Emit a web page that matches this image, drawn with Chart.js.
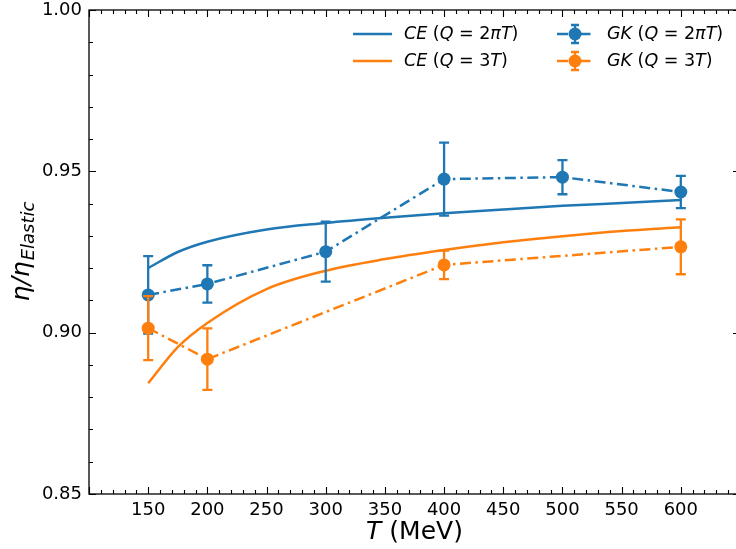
<!DOCTYPE html>
<html>
<head>
<meta charset="utf-8">
<script src="https://cdn.jsdelivr.net/npm/chart.js@4.4.0/dist/chart.umd.min.js"></script>
<style>
  html, body { margin: 0; padding: 0; background: #fff; overflow: hidden; }
  #wrap { width: 746px; height: 549px; }
</style>
</head>
<body>
<div id="wrap"><canvas id="chart"></canvas></div>
<script>
// Green-Kubo points, Q = 2 pi T
const gkTemps = [150, 200, 300, 400, 500, 600]
const gk2piT = [0.9117, 0.9151, 0.9251, 0.9476, 0.9482, 0.9436]
const gk2piTErr = [0.0120, 0.0058, 0.0093, 0.0113, 0.0053, 0.0050]

// Green-Kubo points, Q = 3T
const gk3TTemps = [150, 200, 400, 600]
const gk3T = [0.9014, 0.8918, 0.9210, 0.9266]
const gk3TErr = [0.0099, 0.0095, 0.0044, 0.0085]

// Chapman-Enskog curves
const ceTemps = [150, 175, 200, 250, 300, 350, 400, 450, 500, 550, 600]
const ce2piT = [0.9200, 0.9250, 0.9282, 0.9320, 0.9340, 0.9356, 0.9370, 0.9382, 0.9393, 0.9402, 0.9411]
const ce3T = [0.8843, 0.8955, 0.9030, 0.9135, 0.9192, 0.9228, 0.9256, 0.9280, 0.9299, 0.9315, 0.9327]

const xTicks = [150, 200, 250, 300, 350, 400, 450, 500, 550, 600]
const yTicks = ["0.85", "0.90", "0.95", "1.00"]

const BLUE = "#1f77b4"
const ORANGE = "#ff7f0e"
const FONT = '"DejaVu Sans", sans-serif'
const DASHDOT = [11, 4.5, 2.5, 4.5]
const LW = 2.5

const pts = (xs, ys) => xs.map((x, i) => ({ x, y: ys[i] }))

// draw a run of text pieces, some italic
function drawRich(ctx, parts, x, y, size) {
  let cx = x
  parts.forEach(([txt, it]) => {
    ctx.font = (it ? "italic " : "") + size + "px " + FONT
    ctx.fillText(txt, cx, y)
    cx += ctx.measureText(txt).width
  })
  return cx
}
function richWidth(ctx, parts, size) {
  let w = 0
  parts.forEach(([txt, it]) => {
    ctx.font = (it ? "italic " : "") + size + "px " + FONT
    w += ctx.measureText(txt).width
  })
  return w
}

const errorBars = {
  id: "errorBars",
  beforeDatasetDraw(chart, args) {
    const ds = chart.data.datasets[args.index]
    if (!ds.errors) return
    const { ctx, scales: { x, y } } = chart
    ctx.save()
    ctx.strokeStyle = ds.borderColor
    ctx.lineWidth = 2.3
    ds.data.forEach((p, i) => {
      const px = x.getPixelForValue(p.x)
      const top = y.getPixelForValue(p.y + ds.errors[i])
      const bot = y.getPixelForValue(p.y - ds.errors[i])
      ctx.beginPath()
      ctx.moveTo(px, top); ctx.lineTo(px, bot)
      ctx.moveTo(px - 5, top); ctx.lineTo(px + 5, top)
      ctx.moveTo(px - 5, bot); ctx.lineTo(px + 5, bot)
      ctx.stroke()
    })
    ctx.restore()
  },
}

const frame = {
  id: "frame",
  afterDraw(chart) {
    const { ctx, chartArea: a, scales: { x, y } } = chart
    ctx.save()
    ctx.strokeStyle = "#000"
    ctx.lineWidth = 1.3
    ctx.strokeRect(a.left, a.top, a.right - a.left, a.bottom - a.top)
    ctx.lineWidth = 1.1
    ctx.beginPath()
    for (let t = 100; t <= 650; t += 10) {
      const len = t % 50 === 0 ? 7 : 4
      const px = Math.round(x.getPixelForValue(t)) + 0.5
      ctx.moveTo(px, a.bottom); ctx.lineTo(px, a.bottom - len)
      ctx.moveTo(px, a.top); ctx.lineTo(px, a.top + len)
    }
    for (let i = 0; i <= 15; i++) {
      const len = i % 5 === 0 ? 7 : 4
      const py = Math.round(y.getPixelForValue(0.85 + i * 0.01)) + 0.5
      ctx.moveTo(a.left, py); ctx.lineTo(a.left + len, py)
      ctx.moveTo(a.right, py); ctx.lineTo(a.right - len, py)
    }
    ctx.stroke()

    // axis titles
    ctx.fillStyle = "#000"
    ctx.textBaseline = "alphabetic"
    const xt = [["T", true], [" (MeV)", false]]
    const cx = (a.left + a.right) / 2
    drawRich(ctx, xt, cx - richWidth(ctx, xt, 25) / 2, 539, 25)

    ctx.save()
    ctx.translate(29, 252)
    ctx.rotate(-Math.PI / 2)
    ctx.font = "italic 25px " + FONT
    const main = "\u03b7/\u03b7"
    const mw = ctx.measureText(main).width
    ctx.font = "italic 18px " + FONT
    const sw = ctx.measureText("Elastic").width
    const start = -(mw + sw) / 2
    ctx.font = "italic 25px " + FONT
    ctx.fillText(main, start, 0)
    ctx.font = "italic 18px " + FONT
    ctx.fillText("Elastic", start + mw + 1, 5)
    ctx.restore()

    // legend
    const rows = [34, 61]
    const ce = [
      { c: BLUE, t: [["CE", true], [" (", false], ["Q", true], [" = 2", false], ["\u03c0T", true], [")", false]] },
      { c: ORANGE, t: [["CE", true], [" (", false], ["Q", true], [" = 3", false], ["T", true], [")", false]] },
    ]
    const gk = [
      { c: BLUE, t: [["GK", true], [" (", false], ["Q", true], [" = 2", false], ["\u03c0T", true], [")", false]] },
      { c: ORANGE, t: [["GK", true], [" (", false], ["Q", true], [" = 3", false], ["T", true], [")", false]] },
    ]
    ctx.textBaseline = "middle"
    ce.forEach((e, i) => {
      const yy = rows[i]
      ctx.strokeStyle = e.c
      ctx.lineWidth = LW
      ctx.beginPath(); ctx.moveTo(353, yy); ctx.lineTo(392, yy); ctx.stroke()
      ctx.fillStyle = "#000"
      drawRich(ctx, e.t, 404, yy, 17.5)
    })
    gk.forEach((e, i) => {
      const yy = rows[i]
      ctx.strokeStyle = e.c
      ctx.fillStyle = e.c
      ctx.lineWidth = LW
      ctx.setLineDash(DASHDOT)
      ctx.beginPath(); ctx.moveTo(557, yy); ctx.lineTo(592, yy); ctx.stroke()
      ctx.setLineDash([])
      ctx.lineWidth = 2.3
      ctx.beginPath()
      ctx.moveTo(575, yy - 9); ctx.lineTo(575, yy + 9)
      ctx.moveTo(571, yy - 9); ctx.lineTo(579, yy - 9)
      ctx.moveTo(571, yy + 9); ctx.lineTo(579, yy + 9)
      ctx.stroke()
      ctx.beginPath(); ctx.arc(575, yy, 6.5, 0, Math.PI * 2); ctx.fill()
      ctx.fillStyle = "#000"
      drawRich(ctx, e.t, 607, yy, 17.5)
    })
    ctx.restore()
  },
}

const ctx = document.getElementById("chart").getContext("2d")
new Chart(ctx, {
  type: "line",
  data: {
    datasets: [
      {
        label: "GK (Q = 3T)",
        data: pts(gk3TTemps, gk3T),
        errors: gk3TErr,
        borderColor: ORANGE,
        backgroundColor: ORANGE,
        borderWidth: LW,
        borderDash: DASHDOT,
        pointRadius: 6.5,
        pointBorderWidth: 0,
        order: 0,
      },
      {
        label: "GK (Q = 2\u03c0T)",
        data: pts(gkTemps, gk2piT),
        errors: gk2piTErr,
        borderColor: BLUE,
        backgroundColor: BLUE,
        borderWidth: LW,
        borderDash: DASHDOT,
        pointRadius: 6.5,
        pointBorderWidth: 0,
        order: 1,
      },
      {
        label: "CE (Q = 3T)",
        data: pts(ceTemps, ce3T),
        borderColor: ORANGE,
        borderWidth: LW,
        pointRadius: 0,
        cubicInterpolationMode: "monotone",
        order: 2,
      },
      {
        label: "CE (Q = 2\u03c0T)",
        data: pts(ceTemps, ce2piT),
        borderColor: BLUE,
        borderWidth: LW,
        pointRadius: 0,
        cubicInterpolationMode: "monotone",
        order: 3,
      },
    ],
  },
  options: {
    responsive: true,
    maintainAspectRatio: false,
    devicePixelRatio: 1,
    animation: false,
    layout: { autoPadding: false, padding: { top: 10, right: 6, left: 0, bottom: 0 } },
    plugins: { legend: { display: false }, tooltip: { enabled: false } },
    scales: {
      x: {
        type: "linear",
        min: 100,
        max: 650,
        grid: { display: false, drawTicks: false },
        border: { display: false },
        afterBuildTicks: (s) => { s.ticks = xTicks.map((v) => ({ value: v })) },
        ticks: { color: "#000", padding: 7, font: { family: FONT, size: 18, lineHeight: 1 }, maxRotation: 0, callback: (v) => String(v) },
        afterFit: (s) => { s.height = 55; s.paddingLeft = 0; s.paddingRight = 0 },
      },
      y: {
        min: 0.85,
        max: 1.0,
        grid: { display: false, drawTicks: false },
        border: { display: false },
        afterBuildTicks: (s) => { s.ticks = yTicks.map((v) => ({ value: Number(v) })) },
        ticks: { color: "#000", padding: 7, font: { family: FONT, size: 18, lineHeight: 1 }, callback: (v) => Number(v).toFixed(2) },
        afterFit: (s) => { s.width = 89; s.paddingTop = 0; s.paddingBottom = 0 },
      },
    },
  },
  plugins: [errorBars, frame],
})
</script>
</body>
</html>
